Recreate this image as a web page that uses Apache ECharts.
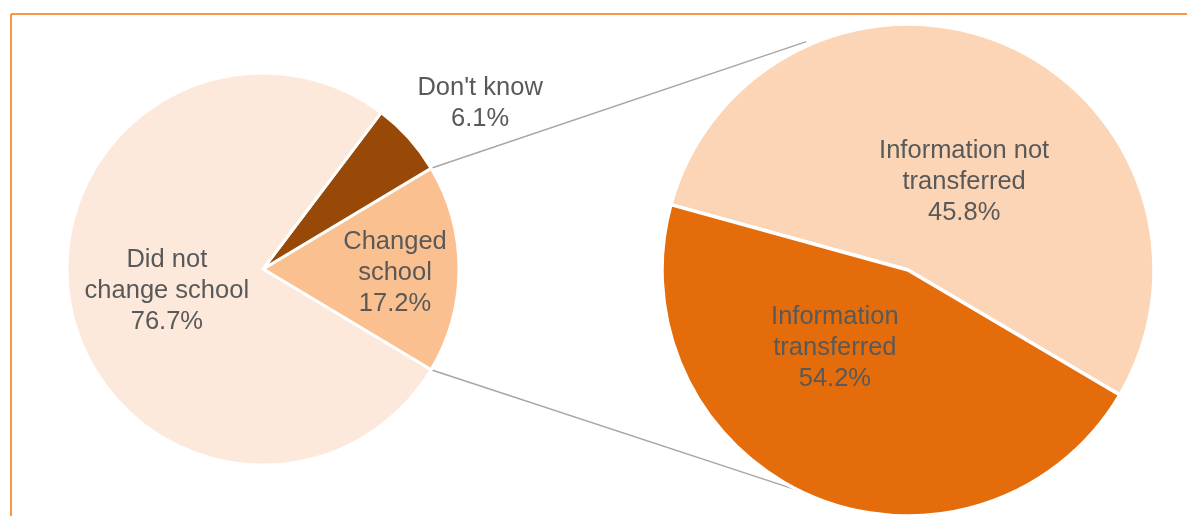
<!DOCTYPE html>
<html>
<head>
<meta charset="utf-8">
<script src="https://cdn.jsdelivr.net/npm/echarts@6/dist/echarts.min.js"></script>
<style>
  html, body { margin: 0; padding: 0; background: #fff; }
  #chart { width: 1187px; height: 516px; }
</style>
</head>
<body>
<div id="chart"></div>
<script>
// left pie: school change
var leftNames = ['Changed\nschool', "Don't know", 'Did not\nchange school'];
var leftValues = [17.2, 6.1, 76.7];
var leftColors = ['#FAC090', '#984807', '#FCE9DB'];

// right pie: breakdown of "Changed school"
var rightNames = ['Information not\ntransferred', 'Information\ntransferred'];
var rightPct = [45.8, 54.2];      // percentages printed on the labels
var rightShares = [54.2, 45.8];   // slice sizes as drawn in the picture
var rightColors = ['#FBD5B5', '#E46C0A'];

var leftCenter = [263, 269], leftR = 196;
var rightCenter = [908, 270], rightR = 246;

// label offsets from the default inside position
var leftOffsets = [[31, 4], [142, -98], [3, 3]];
var rightOffsets = [[7, 28], [-24, -38]];

var halfSpan = leftValues[0] / 100 * 180; // half angle of the "Changed school" slice
function pt(c, r, deg) {
    var a = deg * Math.PI / 180;
    return [c[0] + r * Math.cos(a), c[1] - r * Math.sin(a)];
}
var upA = pt(leftCenter, leftR, halfSpan), upB = pt(rightCenter, rightR + 4, 114);
var loA = pt(leftCenter, leftR, -halfSpan), loB = pt(rightCenter, rightR, -116);

var labelStyle = {
    color: '#595959',
    fontFamily: 'Liberation Sans, Arial, sans-serif',
    fontSize: 25.5,
    lineHeight: 31,
    align: 'center'
};

var myChart = echarts.init(document.getElementById('chart'));
myChart.setOption({
    animation: false,
    graphic: [
        { type: 'line', shape: { x1: 11, y1: 14, x2: 1187, y2: 14 }, style: { stroke: '#F79646', lineWidth: 2 } },
        { type: 'line', shape: { x1: 11, y1: 14, x2: 11, y2: 516 }, style: { stroke: '#F79646', lineWidth: 2 } },
        { type: 'line', z: -1, shape: { x1: upA[0], y1: upA[1], x2: upB[0], y2: upB[1] }, style: { stroke: '#A6A6A6', lineWidth: 1.5 } },
        { type: 'line', z: -1, shape: { x1: loA[0], y1: loA[1], x2: loB[0], y2: loB[1] }, style: { stroke: '#A6A6A6', lineWidth: 1.5 } }
    ],
    series: [
        {
            type: 'pie',
            center: leftCenter,
            radius: leftR,
            startAngle: -halfSpan,
            clockwise: false,
            silent: true,
            itemStyle: { borderColor: '#fff', borderWidth: 3 },
            label: labelStyle,
            labelLine: { show: false },
            data: leftNames.map(function (n, i) {
                return {
                    name: n,
                    value: leftValues[i],
                    itemStyle: { color: leftColors[i] },
                    label: {
                        position: 'inside',
                        offset: leftOffsets[i],
                        formatter: n + '\n' + leftValues[i].toFixed(1) + '%'
                    }
                };
            })
        },
        {
            type: 'pie',
            center: rightCenter,
            radius: rightR,
            startAngle: 164.6,
            clockwise: true,
            silent: true,
            itemStyle: { borderColor: '#fff', borderWidth: 3.5 },
            label: labelStyle,
            labelLine: { show: false },
            data: rightNames.map(function (n, i) {
                return {
                    name: n,
                    value: rightShares[i],
                    itemStyle: { color: rightColors[i] },
                    label: {
                        position: 'inside',
                        offset: rightOffsets[i],
                        formatter: n + '\n' + rightPct[i].toFixed(1) + '%'
                    }
                };
            })
        }
    ]
});
</script>
</body>
</html>
